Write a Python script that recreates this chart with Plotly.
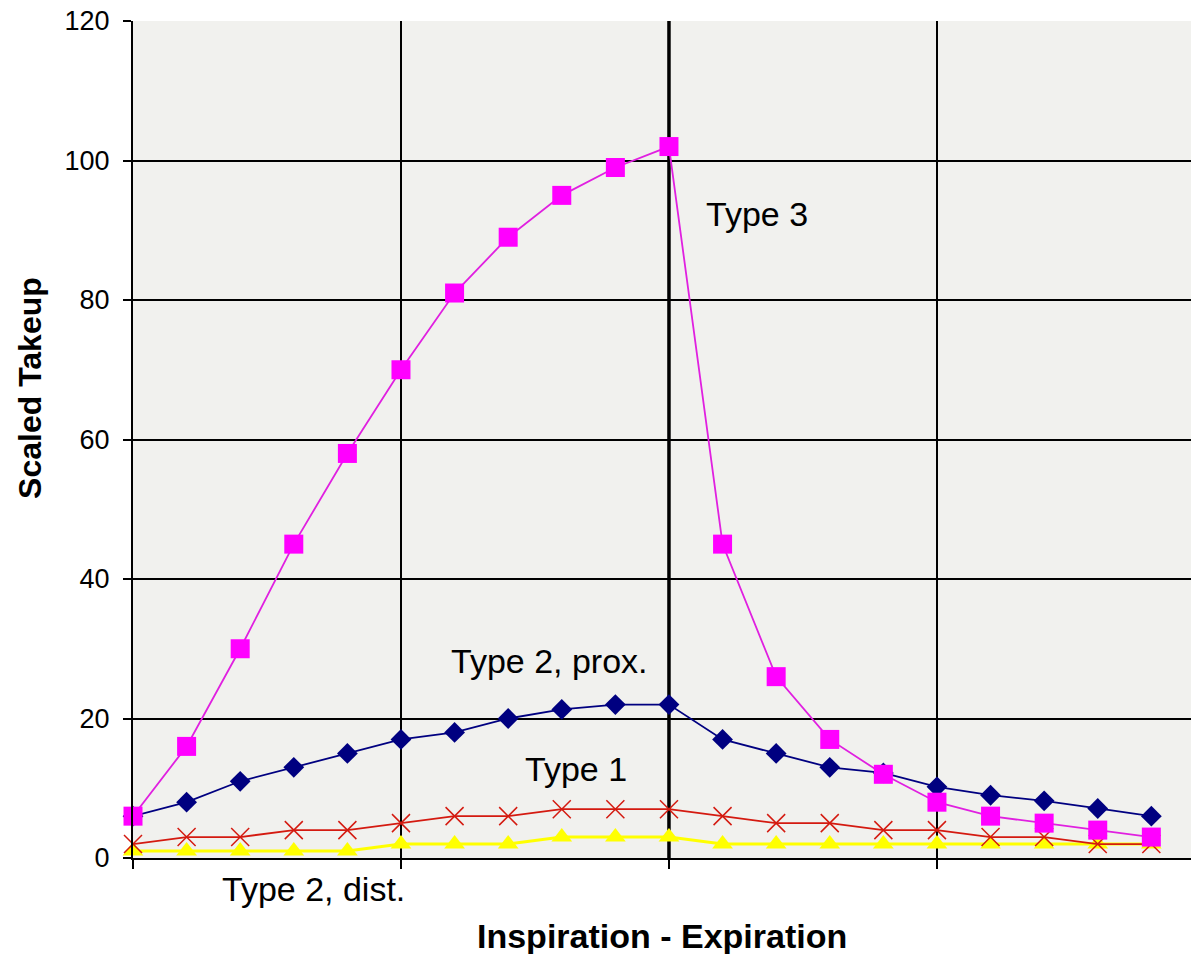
import plotly.graph_objects as go

# ---- data ----
x_index = list(range(20))
type3 = [6, 16, 30, 45, 58, 70, 81, 89, 95, 99, 102, 45, 26, 17, 12, 8, 6, 5, 4, 3]
type2_prox = [6, 8, 11, 13, 15, 17, 18, 20, 21.3, 22, 22, 17, 15, 13, 12.2, 10.2, 9, 8.2, 7.1, 6]
type1 = [2, 3, 3, 4, 4, 5, 6, 6, 7, 7, 7, 6, 5, 5, 4, 4, 3, 3, 2, 2]
type2_dist = [1, 1, 1, 1, 1, 2, 2, 2, 3, 3, 3, 2, 2, 2, 2, 2, 2, 2, 2, 2]

y_ticks = [0, 20, 40, 60, 80, 100, 120]
x_ticks = [0, 5, 10, 15]

series_labels = {"t3": "Type 3", "t2p": "Type 2, prox.", "t1": "Type 1", "t2d": "Type 2, dist."}

FONT = "Liberation Sans, Arial, sans-serif"

fig = go.Figure()

fig.add_trace(go.Scatter(
    x=x_index, y=type2_dist, mode="lines+markers", name=series_labels["t2d"],
    line=dict(color="#ffff00", width=3),
    marker=dict(symbol="triangle-up", size=18, color="#ffff00"),
    cliponaxis=False,
))
fig.add_trace(go.Scatter(
    x=x_index, y=type1, mode="lines+markers", name=series_labels["t1"],
    line=dict(color="#d41a10", width=1.8),
    marker=dict(symbol="x-thin-open", size=18, line=dict(color="#e02818", width=1.5)),
    cliponaxis=False,
))
fig.add_trace(go.Scatter(
    x=x_index, y=type2_prox, mode="lines+markers", name=series_labels["t2p"],
    line=dict(color="#000080", width=1.8),
    marker=dict(symbol="diamond", size=16, color="#000080"),
    cliponaxis=False,
))
fig.add_trace(go.Scatter(
    x=x_index, y=type3, mode="lines+markers", name=series_labels["t3"],
    line=dict(color="#e020e0", width=1.8),
    marker=dict(symbol="square", size=19, color="#ff00ff"),
    cliponaxis=False,
))

# thicker central divider (inspiration/expiration boundary)
fig.add_shape(type="line", xref="x", yref="paper", x0=10, x1=10, y0=0, y1=1,
              line=dict(color="black", width=3.5), layer="below")

annotations = [
    dict(x=11.64, y=92.4, text=series_labels["t3"], yref="y"),
    dict(x=7.78, y=28.2, text=series_labels["t2p"], yref="y"),
    dict(x=8.27, y=12.7, text=series_labels["t1"], yref="y"),
    dict(x=3.36, y=-0.037, text=series_labels["t2d"], yref="paper"),
]
for a in annotations:
    fig.add_annotation(x=a["x"], y=a["y"], xref="x", yref=a["yref"], text=a["text"],
                       xanchor="center", yanchor="middle",
                       showarrow=False, font=dict(family=FONT, size=34, color="black"))

fig.add_annotation(x=0.5, y=-0.093, xref="paper", yref="paper", text="<b>Inspiration - Expiration</b>",
                   showarrow=False, font=dict(family=FONT, size=34, color="black"),
                   xanchor="center", yanchor="middle")
fig.add_annotation(x=-0.098, y=0.562, xref="paper", yref="paper", text="<b>Scaled Takeup</b>",
                   showarrow=False, textangle=-90, font=dict(family=FONT, size=32, color="black"),
                   xanchor="center", yanchor="middle")

fig.update_layout(
    width=1191, height=954,
    margin=dict(l=133, r=0, t=21, b=96),
    paper_bgcolor="white",
    plot_bgcolor="#f1f1ee",
    showlegend=False,
    font=dict(family=FONT, color="black"),
)
fig.update_xaxes(
    range=[0, 19.74], tickvals=x_ticks, showticklabels=False,
    ticks="outside", ticklen=9, tickwidth=2, tickcolor="black",
    showgrid=True, gridcolor="black", gridwidth=2,
    showline=True, linecolor="black", linewidth=2, zeroline=False,
)
fig.update_yaxes(
    range=[0, 120], tickvals=y_ticks,
    ticks="outside", ticklen=8, tickwidth=2, tickcolor="black",
    tickfont=dict(family=FONT, size=27, color="black"),
    ticklabelstandoff=8,
    showgrid=True, gridcolor="black", gridwidth=2,
    showline=True, linecolor="black", linewidth=2, zeroline=False,
)

fig.write_html("out.html", config={"displayModeBar": False},
               post_script="document.body.style.margin='0px';document.body.style.overflow='hidden';")
